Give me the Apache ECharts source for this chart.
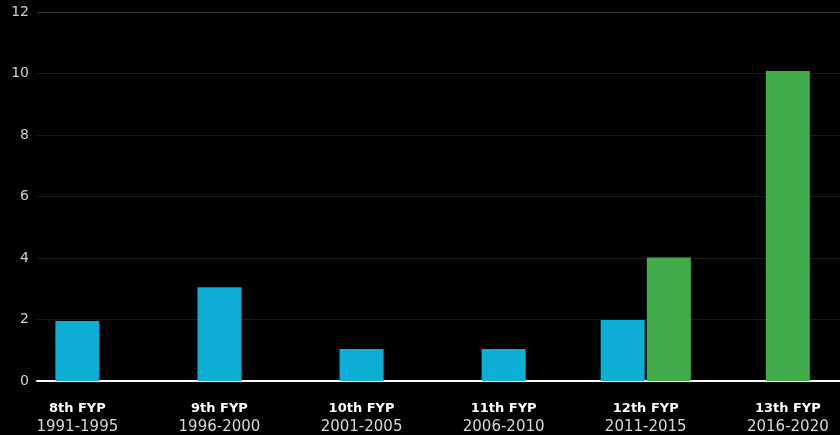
<!DOCTYPE html>
<html lang="en">
<head>
    <meta charset="UTF-8">
    <title>FYP chart</title>
    <script type="text/javascript" src="https://cdn.jsdelivr.net/npm/echarts@6/dist/echarts.min.js"></script>
    <style>
        html, body { margin: 0; padding: 0; background: #000; }
        #chart { width: 840px; height: 435px; }
    </style>
</head>
<body>
<div id="chart"></div>
<script type="text/javascript">
    // 数据
    var plans = ['8th FYP', '9th FYP', '10th FYP', '11th FYP', '12th FYP', '13th FYP'];
    var years = ['1991-1995', '1996-2000', '2001-2005', '2006-2010', '2011-2015', '2016-2020'];
    var blueValues = [1.95, 3.05, 1.04, 1.04, 1.98, null];
    var greenValues = [null, null, null, null, 4.02, 10.08];
    var yTicks = [0, 2, 4, 6, 8, 10, 12];

    var BLUE = '#0daed6';
    var GREEN = '#40ad4a';

    // 单独的柱子居中，成对的柱子并排
    var singleBlue = [], singleGreen = [], pairBlue = [], pairGreen = [];
    plans.forEach(function (p, i) {
        var b = blueValues[i], g = greenValues[i];
        if (b != null && g != null) {
            pairBlue.push([i, b]);
            pairGreen.push([i, g]);
        } else if (b != null) {
            singleBlue.push([i, b]);
        } else if (g != null) {
            singleGreen.push([i, g]);
        }
    });

    var xMin = -0.284, xMax = 5.367;
    var chart = echarts.init(document.getElementById('chart'));
    var option = {
        backgroundColor: '#000',
        animation: false,
        grid: { left: 37, right: 0, top: 12, bottom: 54 },
        xAxis: [{
            type: 'value',
            min: xMin,
            max: xMax,
            splitLine: { show: false },
            axisTick: { show: false },
            axisLine: { show: true, lineStyle: { color: '#fff', width: 2 } },
            axisLabel: {
                customValues: plans.map(function (p, i) { return i; }),
                margin: 19,
                formatter: function (v) {
                    return '{a|' + plans[v] + '}\n{b|' + years[v] + '}';
                },
                rich: {
                    a: { fontFamily: 'DejaVu Sans', fontWeight: 'bold', fontSize: 13, color: '#fff', lineHeight: 18 },
                    b: { fontFamily: 'DejaVu Sans', fontSize: 15, color: '#d8d8d8', lineHeight: 18 }
                }
            }
        }, {
            type: 'value',
            min: xMin,
            max: xMax,
            show: false
        }],
        yAxis: {
            type: 'value',
            min: 0,
            max: 12,
            interval: 2,
            axisLine: { show: false },
            axisTick: { show: false },
            axisLabel: {
                margin: 8,
                color: '#cfcfcf',
                fontFamily: 'DejaVu Sans',
                fontSize: 14,
                customValues: yTicks
            },
            splitLine: {
                lineStyle: {
                    color: ['#1c1c1c', '#1c1c1c', '#1c1c1c', '#1c1c1c', '#1c1c1c', '#1c1c1c', '#3a3a3a'],
                    width: 1
                }
            }
        },
        series: [
            { name: 'blue', type: 'bar', xAxisIndex: 0, stack: 'single', barWidth: 44, itemStyle: { color: BLUE }, data: singleBlue },
            { name: 'green', type: 'bar', xAxisIndex: 0, stack: 'single', barWidth: 44, itemStyle: { color: GREEN }, data: singleGreen },
            { name: 'blue2', type: 'bar', xAxisIndex: 1, barWidth: 44, barGap: '5%', itemStyle: { color: BLUE }, data: pairBlue },
            { name: 'green2', type: 'bar', xAxisIndex: 1, barWidth: 44, barGap: '5%', itemStyle: { color: GREEN }, data: pairGreen }
        ]
    };
    chart.setOption(option);
</script>
</body>
</html>
